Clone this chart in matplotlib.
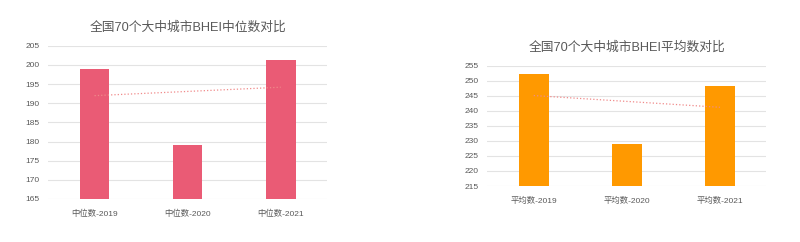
import numpy as np
import matplotlib.pyplot as plt

plt.rcParams['font.family'] = ['Liberation Sans', 'Noto Sans CJK SC', 'DejaVu Sans']

# data
median_labels = ['中位数-2019', '中位数-2020', '中位数-2021']
median_values = [199.0, 179.0, 201.2]
mean_labels = ['平均数-2019', '平均数-2020', '平均数-2021']
mean_values = [252.2, 228.9, 248.3]

fig = plt.figure(figsize=(8, 2.42), dpi=100)
fig.patch.set_facecolor('white')

def draw(ax, labels, values, color, ylo, yhi, title):
  x = np.arange(len(values))
  ax.bar(x, [v - ylo for v in values], bottom=ylo, width=0.32, color=color, zorder=2)
  # linear trend line
  k, b = np.polyfit(x, values, 1)
  ax.plot(x, k * x + b, linestyle=':', color='#f08a8a', linewidth=0.9, zorder=3)
  ax.set_xlim(-0.5, len(values) - 0.5)
  ax.set_ylim(ylo, yhi)
  ax.set_yticks(np.arange(ylo, yhi + 1, 5))
  ax.set_xticks(x)
  ax.set_xticklabels(labels)
  ax.tick_params(axis='both', length=0, labelsize=6, colors='#595959')
  ax.tick_params(axis='x', pad=8)
  ax.tick_params(axis='y', pad=6)
  ax.grid(axis='y', color='#e3e3e3', linewidth=0.8, zorder=0)
  for s in ax.spines.values():
    s.set_visible(False)
  ax.set_title(title, fontsize=9.2, color='#595959', pad=11)

ax1 = fig.add_axes([0.06, 0.1777, 0.349, 0.6335])
draw(ax1, median_labels, median_values, '#ea5b75', 165, 205, '全国70个大中城市BHEI中位数对比')

ax2 = fig.add_axes([0.609, 0.2314, 0.349, 0.497])
draw(ax2, mean_labels, mean_values, '#ff9900', 215, 255, '全国70个大中城市BHEI平均数对比')

plt.savefig('out.png', dpi=100, facecolor='white')
